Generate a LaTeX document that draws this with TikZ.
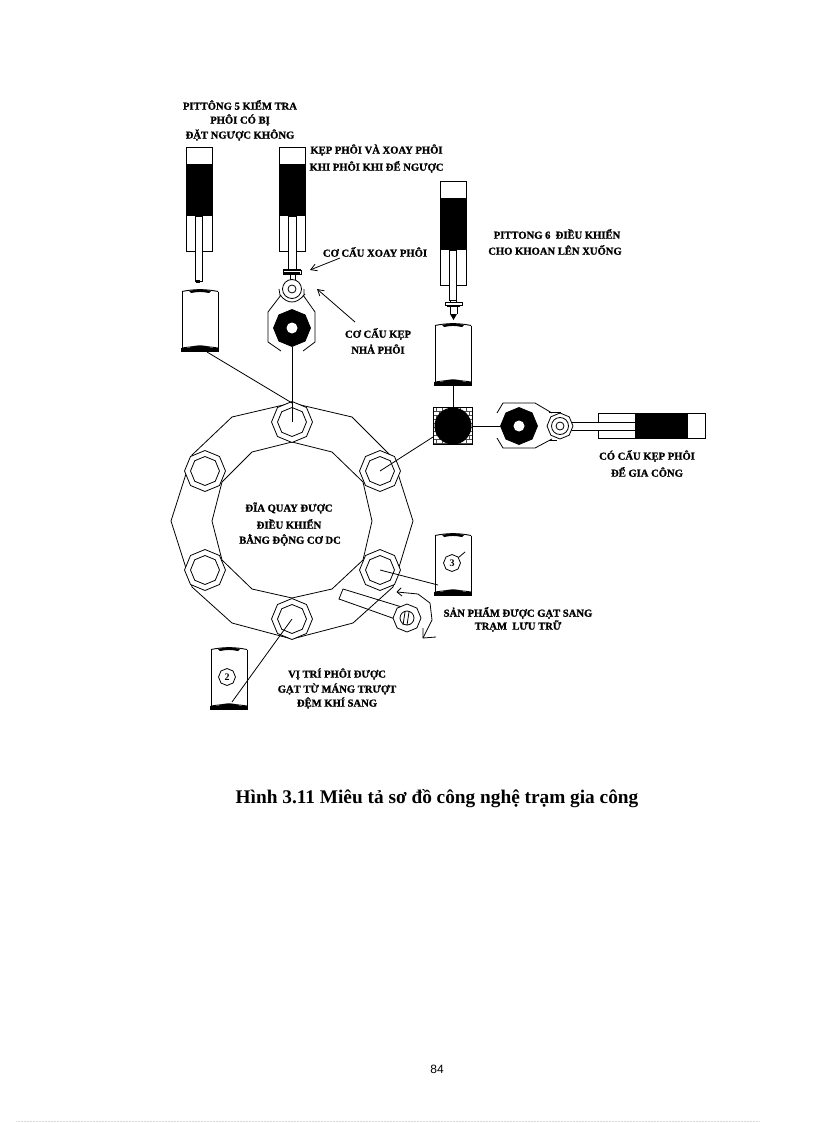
\documentclass[tikz,border=0pt]{standalone}
\usepackage{fontspec}
\setmainfont{Liberation Serif}
\newfontfamily\pagefont{Liberation Sans}
\newfontfamily\heavyfont[UprightFont=* Bold,UprightFeatures={FakeBold=1.2}]{Liberation Serif}
\usetikzlibrary{shapes.geometric,arrows.meta}
\tikzset{
  lbl/.style={font=\heavyfont\fontsize{10.6}{11}\selectfont,inner sep=0pt,align=center},
  oct/.style={regular polygon,regular polygon sides=8,shape border rotate=22.5,draw,inner sep=0pt,minimum size=#1},
  socket/.style={oct=41,fill=white},
  socketin/.style={oct=29},
  blackoct/.style={oct=37,fill=black},
  hole/.style={circle,fill=white,inner sep=0pt,minimum size=11},
  ring/.style={circle,draw,fill=white,inner sep=0pt,minimum size=#1},
  conn/.style={line width=0.8pt},
  openarrow/.style={-{Straight Barb[length=6pt,width=7pt]},line width=0.8pt},
  numcircle/.style={oct=17,font=\bfseries\fontsize{10}{10}\selectfont},
}
% workpiece: #1 = left, #2 = top, width 36, height 60
\newcommand{\workpiece}[2]{%
  \begin{scope}[shift={(#1,#2)}]
    \draw[line width=1pt] (0,1.5) -- (0,58);
    \draw[line width=1pt] (36,1.5) -- (36,58);
    \draw[line width=0.9pt] (0,1.5) .. controls (12,-1) and (24,-1) .. (36,1.5);
    \fill (7,1) .. controls (14,-1) and (22,-1) .. (29,1) -- (27,3) .. controls (20,1.6) and (16,1.6) .. (9,3) -- cycle;
    \draw[line width=0.9pt] (0,58) .. controls (12,56) and (24,56) .. (36,58);
    \fill (7,58) .. controls (12,54.5) and (24,54.5) .. (29,58) -- cycle;
    \fill (-1,58.3) rectangle (37,61.5);
  \end{scope}}
% vertical piston: #1 = left, #2 = top
\newcommand{\vpiston}[2]{%
  \begin{scope}[shift={(#1,#2)}]
    \draw[line width=0.9pt] (0,0) rectangle (26,104);
    \fill (0,17) rectangle (26,69);
  \end{scope}}
\begin{document}
\begin{tikzpicture}[x=1pt,y=-1pt,line width=0.8pt]
\useasboundingbox (0,0) rectangle (816,1123);
\fill[white] (0,0) rectangle (816,1123);

% ---- disc
\draw (292,403) -- (352,417) -- (393,458) -- (413,521) -- (393,587) -- (353,623) -- (292,639)
   -- (232,623) -- (192,587) -- (171,521) -- (192,455) -- (232,417) -- cycle;
\draw (292,442) -- (332,452) -- (363,482) -- (372,521) -- (363,560) -- (332,589) -- (292,598)
   -- (252,589) -- (222,560) -- (212,521) -- (222,482) -- (252,452) -- cycle;
\foreach \n/\p in {a/{292,422},b/{380,471},c/{380,570},d/{292,619},e/{205,570},f/{205,471}}{
  \node[socket] (s\n) at (\p) {};
  \node[socketin] (i\n) at (\p) {};
  \coordinate (c\n) at (\p);
}

% ---- piston 5
\vpiston{186}{147}
\draw[fill=white,line width=0.9pt] (195,216) rectangle (202,281);
\fill (196,280) rectangle (200,283);
\workpiece{182}{290}
\coordinate (w1) at (207,352);

% ---- piston clamp
\vpiston{279}{147}
\draw[fill=white,line width=0.9pt] (288,216) rectangle (296,269);
\fill (283,269) rectangle (301,271);
\draw[fill=white] (283,270) rectangle (301,274);
\fill (284,272) rectangle (300,274);
\draw (290,274) -- (290,280) (295,274) -- (295,280);
\draw (280,295) .. controls (284,300) and (288,302) .. (292,302) .. controls (296,302) and (300,300) .. (305,294);
\node[ring=19] (swv) at (292,289) {};
\node[ring=8] (swvi) at (292,289) {};
\draw (281,295) -- (268,312) -- (268,342) -- (281,351);
\draw (303,295) -- (315,312) -- (315,342) -- (303,351);
\draw (279,289) -- (280,295) (304,289) -- (304,295);
\node[blackoct] (clampA) at (292,328) {};
\node[hole] (clampAh) at (292,328) {};
\draw[conn] (clampA.south) -- (ca);

\draw[conn] (w1) -- (292,403);

% ---- piston 6
\vpiston{440}{181}
\draw[fill=white,line width=0.9pt] (449,250) rectangle (456,300);
\draw[fill=white] (445,302) rectangle (462,305);
\fill (447,305) rectangle (460,307);
\draw (450,300) -- (450,302) (456,300) -- (456,302);
\draw (450,307) -- (450,314) (457,307) -- (457,314);
\fill (450,314) -- (457,314) -- (453.5,320) -- cycle;
\workpiece{435}{324}
\coordinate (w2) at (453,385);

% ---- brick holder
\draw[fill=white] (433,407) rectangle (472,444);
\begin{scope}
  \clip (433,407) rectangle (472,444);
  \foreach \y in {411,415,...,443} \draw[line width=0.5pt,gray!60!black] (433,\y) -- (472,\y);
  \foreach \x in {436,442,...,472} \foreach \y in {407,415,...,443} \draw[line width=0.5pt,gray!60!black] (\x,\y) -- (\x,\y+4);
  \foreach \x in {433,439,...,472} \foreach \y in {411,419,...,443} \draw[line width=0.5pt,gray!60!black] (\x,\y) -- (\x,\y+4);
\end{scope}
\draw[line width=0.9pt] (433,407) rectangle (472,444);
\node[circle,fill=black,inner sep=0pt,minimum size=37] (hold) at (453,426) {};
\draw[conn] (w2) -- (hold.north);
\coordinate (sqc) at (433,437);
\draw[conn] (sqc) -- (cb);

% ---- horizontal clamp
\node[blackoct] (clampB) at (519,426) {};
\node[hole] (clampBh) at (519,426) {};
\draw[conn] (hold.east) -- (clampB.west);
\draw (497,413) -- (503,403) -- (535,403) -- (552,413);
\draw (497,438) -- (503,448) -- (535,448) -- (552,439);
\draw[line width=0.9pt] (598,413) rectangle (705,438);
\fill (635,413) rectangle (688,438);
\draw[fill=white,line width=0.9pt] (567,422) rectangle (635,430);
\draw (549,412) -- (561,412) (549,440) -- (557,440);
\node[oct=26,fill=white] (swvB) at (560,426) {};
\node[ring=17] (swvBm) at (560,426) {};
\node[ring=8] (swvBi) at (560,426) {};

% ---- workpiece 2
\workpiece{211}{648}
\node[numcircle] (n2) at (227,677) {2};
\coordinate (w3) at (232,702);
\draw[conn] (cd) -- (w3);

% ---- workpiece 3
\workpiece{435}{534}
\node[numcircle] (n3) at (452,563) {3};
\coordinate (w4) at (438,585);
\coordinate (w5) at (465,552);
\draw[conn] (cc) -- (w4);
\draw (n3) -- (w5);

% ---- lever
\draw (405,608) -- (343,589) -- (339,599) -- (398,620);
\node[oct=28,fill=white] (piv) at (407,618) {};
\node[ring=14] (pivi) at (407,618) {};
\draw (405,612) -- (403,625) (409,612) -- (407,625);
\coordinate (rotA) at (397,592);
\coordinate (rotB) at (423,638);
\draw (rotA) -- (401,588) (rotA) -- (402,596);
\draw (rotA) -- (418,594) -- (430,603) -- (432,620) -- (rotB);
\draw (rotB) -- (423,628) (rotB) -- (436,637);

% ---- call-out arrows
\node[lbl] (txrot) at (375,252) {CƠ CẤU XOAY PHÔI};
\coordinate (arA) at (340,258);
\coordinate (arAe) at (310,270);
\draw[openarrow] (arA) -- (arAe);
\coordinate (arB) at (355,322);
\coordinate (arBe) at (317,289);
\draw[openarrow] (arB) -- (arBe);

% ---- labels
\node[lbl] (t1) at (240,105) {PITTÔNG 5 KIỂM TRA};
\node[lbl] (t2) at (240,120) {PHÔI CÓ BỊ};
\node[lbl] (t3) at (240,135) {ĐẶT NGƯỢC KHÔNG};
\node[lbl] (t4) at (376.5,150) {KẸP PHÔI VÀ XOAY PHÔI};
\node[lbl] (t5) at (376.5,167) {KHI PHÔI KHI ĐỂ NGƯỢC};
\node[lbl] (t6) at (378,334) {CƠ CẤU KẸP};
\node[lbl] (t7) at (378,349) {NHẢ PHÔI};
\node[lbl] (t8) at (557,234) {PITTONG 6\ \ ĐIỀU KHIỂN};
\node[lbl] (t9) at (555,250) {CHO KHOAN LÊN XUỐNG};
\node[lbl] (t10) at (647,456) {CÓ CẤU KẸP PHÔI};
\node[lbl] (t11) at (647,472) {ĐỂ GIA CÔNG};
\node[lbl] (t12) at (289,508) {ĐĨA QUAY ĐƯỢC};
\node[lbl] (t13) at (289,524) {ĐIỀU KHIỂN};
\node[lbl] (t14) at (290,540) {BẰNG ĐỘNG CƠ DC};
\node[lbl] (t15) at (337,674) {VỊ TRÍ PHÔI ĐƯỢC};
\node[lbl] (t16) at (337,689) {GẠT TỪ MÁNG TRƯỢT};
\node[lbl] (t17) at (337,703) {ĐỆM KHÍ SANG};
\node[lbl] (t18) at (518,613) {SẢN PHẨM ĐƯỢC GẠT SANG};
\node[lbl] (t19) at (518,626) {TRẠM\ \ LƯU TRỮ};

\node[inner sep=0pt,font=\bfseries\fontsize{19.3}{22}\selectfont] (cap) at (437,799) {Hình 3.11 Miêu tả sơ đồ công nghệ trạm gia công};
\node[inner sep=0pt,font=\pagefont\fontsize{12}{14}\selectfont] (pg) at (437,1069) {84};
\draw[gray!30,densely dotted,line width=0.5pt] (16,1121.5) -- (760,1121.5);
\end{tikzpicture}
\end{document}
